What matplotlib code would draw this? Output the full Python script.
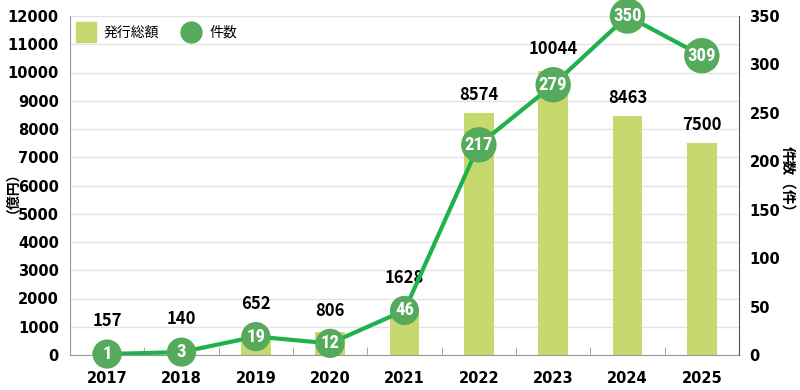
import matplotlib
matplotlib.use("Agg")
import matplotlib.pyplot as plt
import numpy as np
from matplotlib.lines import Line2D

years = ["2017", "2018", "2019", "2020", "2021", "2022", "2023", "2024", "2025"]
amounts = [157, 140, 652, 806, 1628, 8574, 10044, 8463, 7500]
counts = [1, 3, 19, 12, 46, 217, 279, 350, 309]
left_ticks = list(range(0, 12001, 1000))
right_ticks = list(range(0, 351, 50))

plt.rcParams['font.family'] = ['Noto Sans CJK JP', 'DejaVu Sans']

bar_color = "#C5D96E"
line_color = "#1FB14C"
marker_color = "#55AA5C"
tick_font = dict(family=['DejaVu Sans'], fontsize=10.5, fontweight='bold')

fig = plt.figure(figsize=(8, 3.9), dpi=100)
ax = fig.add_axes([70/800, 35/390, 669/800, 339/390])
ax2 = ax.twinx()

x = np.arange(len(years))
ax.bar(x, amounts, width=0.4, color=bar_color, zorder=2, label="発行総額")
ax.set_xlim(-0.5, len(years) - 0.5)
ax.set_ylim(0, 12000)
ax2.set_ylim(0, 350)

ax.set_yticks(left_ticks)
ax.set_yticklabels([str(t) for t in left_ticks], **tick_font)
ax2.set_yticks(right_ticks)
ax2.set_yticklabels([str(t) for t in right_ticks], **tick_font)
ax.set_xticks(x)
ax.set_xticklabels(years, **tick_font)
ax.tick_params(axis='x', length=0, pad=11.5)
ax.set_xticks(np.arange(-0.5, len(years) - 0.4, 1), minor=True)
ax.tick_params(axis='x', which='minor', direction='in', length=6, color='#999999')
ax.tick_params(axis='y', length=0, pad=8)
ax2.tick_params(axis='y', length=0, pad=7.5)

ax.grid(axis='y', color='#E3E3E3', linewidth=1, zorder=0)
ax.set_axisbelow(True)
for a in (ax, ax2):
    a.spines['top'].set_visible(False)
    a.spines['left'].set_color('#999999')
    a.spines['right'].set_color('#555555')
    a.spines['bottom'].set_color('#999999')
ax.spines['right'].set_visible(False)
ax2.spines['left'].set_visible(False)
ax2.spines['bottom'].set_visible(False)

ax2.plot(x, counts, color=line_color, linewidth=3, zorder=3)
# circle size grows with the number of digits in the label
diam_pt = np.array([25.5 if len(str(c)) >= 3 else 21 for c in counts])
ax2.scatter(x, counts, s=diam_pt ** 2, color=marker_color, linewidths=0,
            zorder=4, clip_on=False)
for xi, c in zip(x, counts):
    ax2.text(xi, c, str(c), ha='center', va='center', color='white',
             fontsize=13.5, fontweight='bold', family=['Roboto Condensed', 'Roboto', 'DejaVu Sans'],
             zorder=5, clip_on=False)

# bar value labels: above the bar, or above the marker when it sits near the bar top
scale = 12000 / 350
units_per_px = 12000 / 339
for xi, a, c, d in zip(x, amounts, counts, diam_pt):
    radius_units = d / 72 * 100 / 2 * units_per_px
    m = c * scale
    if m - radius_units > a + 40 * units_per_px:
        base = a
    else:
        base = max(a, m + radius_units)
    ax.annotate(str(a), (xi, base), xytext=(0, 13), textcoords='offset points',
                ha='center', va='center', fontsize=12, fontweight='bold', zorder=6)

ax.set_ylabel("（億円）", fontsize=10, fontweight='bold')
ax.yaxis.set_label_coords(-0.086, 0.5)
ax2.set_ylabel("件数（件）", fontsize=10.5, fontweight='bold', rotation=-90, va='center')
ax2.yaxis.set_label_coords(1.074, 0.51)

handles = [Line2D([], [], linestyle='none', marker='s', markersize=15,
                  markerfacecolor=bar_color, markeredgecolor=bar_color),
           Line2D([], [], linestyle='none', marker='o', markersize=15,
                  markerfacecolor=marker_color, markeredgecolor=marker_color)]
ax.legend(handles, ["発行総額", "件数"], loc='upper left', ncol=2, frameon=False,
          fontsize=10, bbox_to_anchor=(-0.012, 1.0), handletextpad=0.3, columnspacing=1.3,
          borderaxespad=0.3)

fig.savefig("out.png", dpi=100)
